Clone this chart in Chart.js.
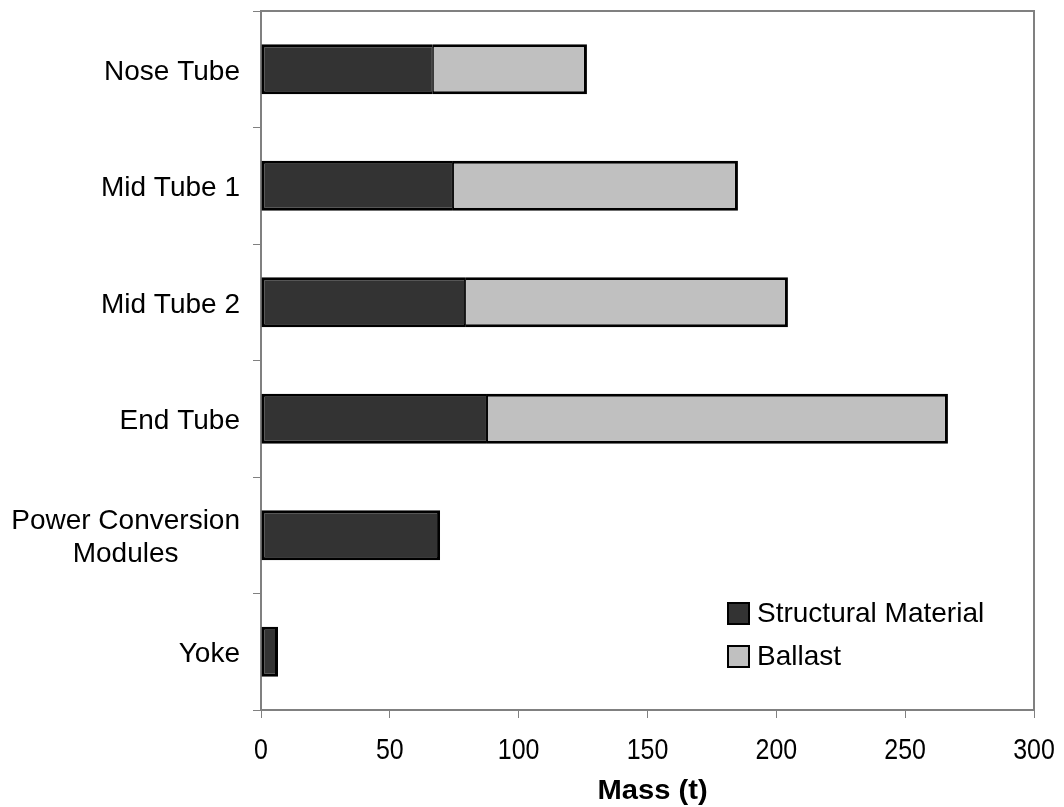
<!DOCTYPE html>
<html>
<head>
<meta charset="utf-8">
<script src="https://cdn.jsdelivr.net/npm/chart.js@4.4.1/dist/chart.umd.min.js"></script>
<style>
  html, body { margin: 0; padding: 0; background: #ffffff; }
  #wrap { width: 1064px; height: 807px; }
</style>
</head>
<body>
<div id="wrap"><canvas id="c" width="1064" height="807"></canvas></div>
<script>
const categories = ['Nose Tube', 'Mid Tube 1', 'Mid Tube 2', 'End Tube', ['Power Conversion', 'Modules'], 'Yoke'];
const structural = [66.7, 74.5, 79.2, 87.7, 69.5, 6.6];
const ballast = [59.8, 110.6, 125.3, 178.9, 0, 0];
const xTicks = [0, 50, 100, 150, 200, 250, 300];
const seriesNames = ['Structural Material', 'Ballast'];

const FONT = '"Liberation Sans", Arial, Helvetica, sans-serif';

const drawText = {
  id: 'drawText',
  afterDraw(chart) {
    const ctx = chart.ctx;
    const ca = chart.chartArea;
    const xs = chart.scales.x, ys = chart.scales.y;
    ctx.save();
    // top and right frame
    ctx.strokeStyle = '#808080';
    ctx.lineWidth = 2;
    ctx.beginPath();
    ctx.moveTo(ca.left, ca.top);
    ctx.lineTo(ca.right, ca.top);
    ctx.lineTo(ca.right, ca.bottom);
    ctx.stroke();

    ctx.fillStyle = '#000000';
    // category labels
    ctx.font = '28px ' + FONT;
    ctx.textBaseline = 'middle';
    ctx.textAlign = 'center';
    categories.forEach((cat, i) => {
      const lines = Array.isArray(cat) ? cat : [cat];
      const w = Math.max(...lines.map(l => ctx.measureText(l).width));
      const cx = 240 - w / 2;
      const cy = ys.getPixelForValue(i);
      const lh = 33;
      lines.forEach((l, j) => {
        ctx.fillText(l, cx, cy + (j - (lines.length - 1) / 2) * lh + 3);
      });
    });

    // x tick labels (slightly condensed)
    ctx.font = '29px ' + FONT;
    xTicks.forEach(v => {
      const px = xs.getPixelForValue(v);
      ctx.save();
      ctx.translate(px, 751);
      ctx.scale(0.86, 1);
      ctx.fillText(String(v), 0, 0);
      ctx.restore();
    });

    // axis title
    ctx.font = 'bold 27px ' + FONT;
    ctx.save();
    ctx.translate((ca.left + ca.right) / 2 + 5, 792);
    ctx.scale(1.08, 1);
    ctx.fillText('Mass (t)', 0, 0);
    ctx.restore();

    // legend
    ctx.font = '28px ' + FONT;
    ctx.textAlign = 'left';
    chart.data.datasets.forEach((ds, i) => {
      const by = 603 + i * 43;
      ctx.fillStyle = ds.backgroundColor;
      ctx.fillRect(728, by, 21, 21);
      ctx.strokeStyle = '#000000';
      ctx.lineWidth = 2;
      ctx.strokeRect(728, by, 21, 21);
      ctx.fillStyle = '#000000';
      ctx.fillText(ds.label, 757, by + 11.5);
    });
    ctx.restore();
  }
};

new Chart(document.getElementById('c'), {
  type: 'bar',
  data: {
    labels: categories,
    datasets: [
      { label: seriesNames[0], data: structural, backgroundColor: '#333333', borderColor: '#000000',
        borderWidth: (c) => ({ top: 3, bottom: 3, left: 3, right: ballast[c.dataIndex] > 0 ? 1 : 3 }),
        borderSkipped: false, barPercentage: 0.43, categoryPercentage: 1.0 },
      { label: seriesNames[1], data: ballast, backgroundColor: '#c0c0c0', borderColor: '#000000',
        borderWidth: { top: 3, bottom: 3, left: 1, right: 3 },
        borderSkipped: false, barPercentage: 0.43, categoryPercentage: 1.0 }
    ]
  },
  options: {
    indexAxis: 'y',
    responsive: false,
    animation: false,
    layout: { padding: { top: 11, right: 30, left: 0, bottom: 0 } },
    plugins: { legend: { display: false }, tooltip: { enabled: false } },
    scales: {
      x: {
        stacked: true,
        min: 0, max: 300,
        afterBuildTicks(scale) { scale.ticks = xTicks.map(v => ({ value: v })); },
        ticks: { display: false },
        grid: { drawOnChartArea: false, drawTicks: true, tickLength: 8, color: '#808080', lineWidth: 1 },
        border: { display: true, color: '#808080', width: 2 },
        afterFit(scale) { scale.height = 97; }
      },
      y: {
        stacked: true,
        offset: true,
        ticks: { display: false },
        grid: { offset: true, drawOnChartArea: false, drawTicks: true, tickLength: 8, color: '#808080', lineWidth: 1 },
        border: { display: true, color: '#808080', width: 2 },
        afterFit(scale) { scale.width = 261; }
      }
    }
  },
  plugins: [drawText]
});
</script>
</body>
</html>
